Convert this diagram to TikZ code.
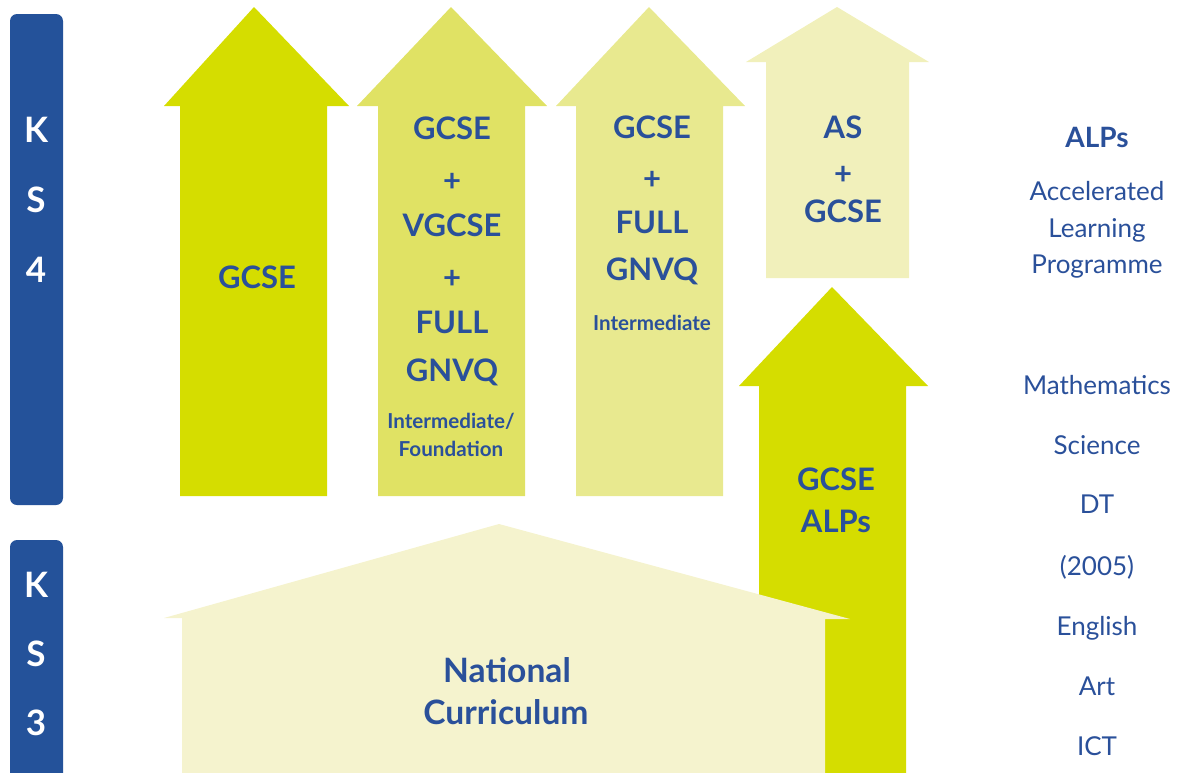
\documentclass[tikz,border=0pt]{standalone}
\usepackage{fontspec}
\setmainfont{Lato}
\definecolor{ksblue}{HTML}{24529A}
\definecolor{txtblue}{HTML}{2A509A}
\definecolor{lime1}{HTML}{D5DD00}
\definecolor{lime2}{HTML}{E0E264}
\definecolor{lime3}{HTML}{E8E98F}
\definecolor{lime4}{HTML}{F1F0BB}
\definecolor{housec}{HTML}{F5F3CE}
\tikzset{
  big/.style={anchor=base, text=txtblue, inner sep=0pt, font=\fontsize{15.5}{18}\selectfont\bfseries},
  housetxt/.style={anchor=base, text=txtblue, inner sep=0pt, font=\fontsize{16.8}{19}\selectfont\bfseries},
  small/.style={anchor=base, text=txtblue, inner sep=0pt, font=\fontsize{10.3}{12}\selectfont\bfseries},
  side/.style={anchor=base, text=txtblue, inner sep=0pt, font=\fontsize{13}{15}\selectfont},
  sidehead/.style={anchor=base, text=txtblue, inner sep=0pt, font=\fontsize{14}{16}\selectfont\bfseries},
  ks/.style={anchor=base, text=white, inner sep=0pt, font=\fontsize{17.5}{20}\selectfont\bfseries},
  bar/.style={fill=ksblue, rounded corners=3.5pt}
}
\begin{document}
\begin{tikzpicture}[x=0.5pt,y=-0.5pt]
\useasboundingbox (0,0) rectangle (1179,772);
% key stage bars
\fill[bar] (10,14) rectangle (63,505);
\fill[bar] (10,540) rectangle (63,820);
\node[ks] (k4k) at (36,142) {K};
\node[ks] (k4s) at (36,212) {S};
\node[ks] (k4n) at (36,282) {4};
\node[ks] (k3k) at (36,597) {K};
\node[ks] (k3s) at (36,666) {S};
\node[ks] (k3n) at (36,735) {3};
% arrows
\fill[lime1] (180,496) -- (180,106) -- (164,106) -- (254,7) -- (349,106) -- (327,106) -- (327,496) -- cycle;
\fill[lime2] (378,496) -- (378,106) -- (357,106) -- (451,7) -- (547,106) -- (525,106) -- (525,496) -- cycle;
\fill[lime3] (576,496) -- (576,106) -- (556,106) -- (649,7) -- (745,106) -- (723,106) -- (723,496) -- cycle;
\fill[lime4] (766,278) -- (766,62) -- (746,62) -- (837,7) -- (929,62) -- (909,62) -- (909,278) -- cycle;
\fill[lime1] (759,820) -- (759,386) -- (739,386) -- (832,287) -- (928,386) -- (906,386) -- (906,820) -- cycle;
% house
\fill[housec] (182,820) -- (182,618) -- (164,618) -- (499,524) -- (850,619) -- (825,619) -- (825,820) -- cycle;
% arrow 1
\node[big] (a1) at (257,288) {GCSE};
% arrow 2
\node[big] (a2l1) at (452,139) {GCSE};
\node[big] (a2l2) at (452,191.5) {+};
\node[big] (a2l3) at (452,236) {VGCSE};
\node[big] (a2l4) at (452,288.5) {+};
\node[big] (a2l5) at (452,333) {FULL};
\node[big] (a2l6) at (452,381.5) {GNVQ};
\node[small] (a2l7) at (451,428) {Intermediate/};
\node[small] (a2l8) at (451,456) {Foundation};
% arrow 3
\node[big] (a3l1) at (652,138) {GCSE};
\node[big] (a3l2) at (652,189.5) {+};
\node[big] (a3l3) at (652,233) {FULL};
\node[big] (a3l4) at (652,280.5) {GNVQ};
\node[small] (a3l5) at (652,330) {Intermediate};
% arrow 4
\node[big] (a4l1) at (843,138) {AS};
\node[big] (a4l2) at (843,184) {+};
\node[big] (a4l3) at (843,222) {GCSE};
% arrow 5
\node[big] (a5l1) at (836,490) {GCSE};
\node[big] (a5l2) at (836,532) {ALPs};
% house text
\node[housetxt] (h1) at (507,682) {National};
\node[housetxt] (h2) at (506,724) {Curriculum};
% right column
\node[sidehead] (r0) at (1097,147) {ALPs};
\node[side] (r1) at (1097,200) {Accelerated};
\node[side] (r2) at (1097,237) {Learning};
\node[side] (r3) at (1097,273) {Programme};
\node[side] (r4) at (1097,394) {Mathematics};
\node[side] (r5) at (1097,454) {Science};
\node[side] (r6) at (1097,513) {DT};
\node[side] (r7) at (1097,575) {(2005)};
\node[side] (r8) at (1097,635) {English};
\node[side] (r9) at (1097,695) {Art};
\node[side] (r10) at (1097,755) {ICT};
\end{tikzpicture}
\end{document}
